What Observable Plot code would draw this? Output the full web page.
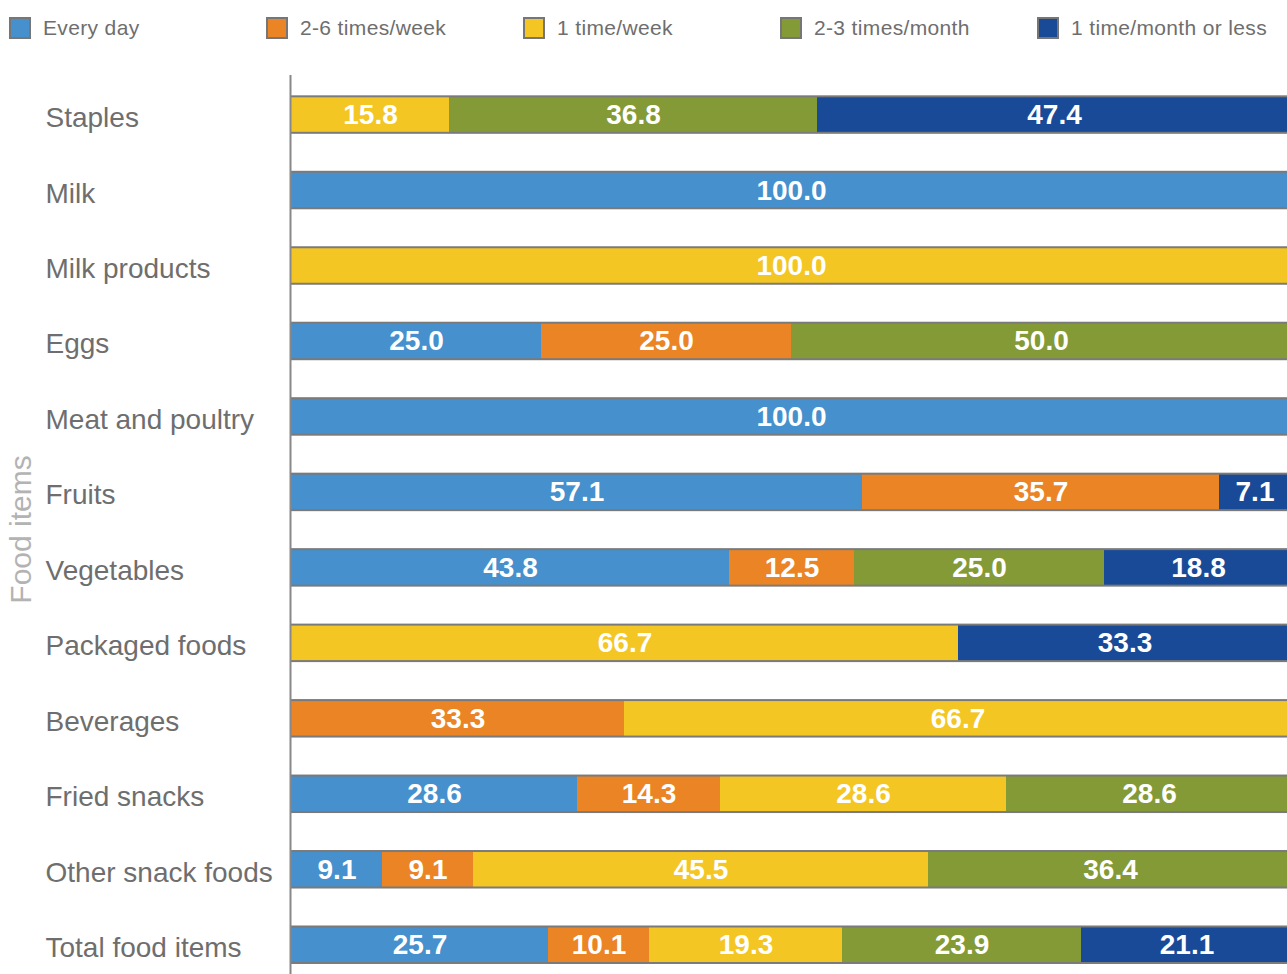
<!DOCTYPE html>
<html><head><meta charset="utf-8">
<script src="https://cdn.jsdelivr.net/npm/d3@7"></script>
<script src="https://cdn.jsdelivr.net/npm/@observablehq/plot@0.6"></script>
<style>
html,body{margin:0;padding:0;background:#fff;overflow:hidden;width:1287px;height:974px}
#legend{position:relative;height:60px;font-family:"Liberation Sans",Arial,Helvetica,sans-serif;font-size:21px;letter-spacing:0.35px;color:#6e6e6e}
.item{position:absolute;top:16px;display:flex;align-items:center;white-space:nowrap}
.sw{width:18px;height:18px;border:2px solid #767676;margin-right:12px}
#chart svg{display:block}
</style></head><body>
<div id="legend"></div><div id="chart"></div>
<script>
const categories = ["Staples","Milk","Milk products","Eggs","Meat and poultry","Fruits","Vegetables","Packaged foods","Beverages","Fried snacks","Other snack foods","Total food items"];
const series = ["Every day","2-6 times/week","1 time/week","2-3 times/month","1 time/month or less"];
const colors = ["#4590CD","#EA8425","#F4C623","#839A37","#184A98"];
const everyDay      = [0,   100, 0,   25, 100, 57.1, 43.8, 0,    0,    28.6, 9.1,  25.7];
const times2to6Week = [0,   0,   0,   25, 0,   35.7, 12.5, 0,    33.3, 14.3, 9.1,  10.1];
const oncePerWeek   = [15.8,0,   100, 0,  0,   0,    0,    66.7, 66.7, 28.6, 45.5, 19.3];
const times2to3Month= [36.8,0,   0,   50, 0,   0,    25.0, 0,    0,    28.6, 36.4, 23.9];
const monthlyOrLess = [47.4,0,   0,   0,  0,   7.1,  18.8, 33.3, 0,    0,    0,    21.1];
const seriesValues = [everyDay, times2to6Week, oncePerWeek, times2to3Month, monthlyOrLess];

const rows = [];
categories.forEach((c, ci) => {
  series.forEach((s, si) => {
    const v = seriesValues[si][ci];
    if (v > 0) rows.push({category: c, series: s, value: v});
  });
});

// legend
const legend = document.getElementById("legend");
series.forEach((s, i) => {
  const it = document.createElement("div");
  it.className = "item";
  it.style.left = (9 + i * 257) + "px";
  it.innerHTML = `<span class="sw" style="background:${colors[i]}"></span><span>${s}</span>`;
  legend.appendChild(it);
});

const font = '"Liberation Sans", Arial, Helvetica, sans-serif';
const chart = Plot.plot({
  width: 1287,
  height: 914,
  marginTop: 15,
  marginBottom: 0,
  marginLeft: 291,
  marginRight: -4,
  style: {fontFamily: font, background: "white", overflow: "hidden"},
  x: {domain: [0, 100], axis: null},
  y: {domain: categories, axis: null, paddingInner: 0.543, paddingOuter: 0.2275, align: 0.65, round: false},
  color: {domain: series, range: colors},
  marks: [
    Plot.barX(categories, {x1: 0, x2: 100, y: d => d, fill: "#7a7a7a", insetTop: -2, insetBottom: -2}),
    Plot.barX(rows, Plot.stackX({x: "value", y: "category", z: "series", fill: "series"})),
    Plot.text(rows, Plot.stackX({x: "value", y: "category", z: "series", text: d => d.value.toFixed(1), fill: "white", fontWeight: "bold", fontSize: 28, style: "letter-spacing:0.6px"})),
    Plot.ruleX([0], {stroke: "#888", strokeWidth: 2, dx: -1}),
    Plot.text(categories, {y: d => d, text: d => d, frameAnchor: "left", textAnchor: "start", dx: -246, dy: 3, fontSize: 28, fill: "#6e6e6e"}),
    Plot.text(["Food items"], {text: d => d, frameAnchor: "left", textAnchor: "middle", rotate: -90, dx: -270, dy: 4.5, fontSize: 30, fill: "#b3b3b3"})
  ]
});
document.getElementById("chart").appendChild(chart);
</script>
</body></html>
